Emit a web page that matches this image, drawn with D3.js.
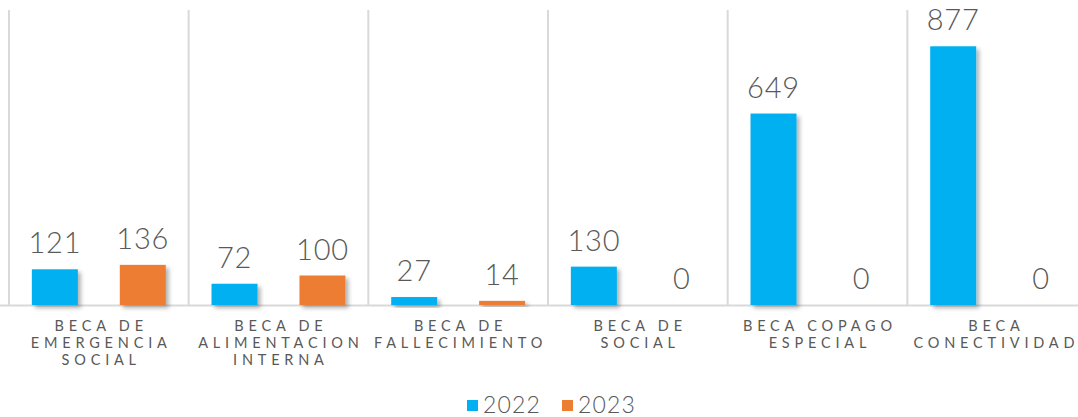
<!DOCTYPE html>
<html>
<head>
<meta charset="utf-8">
<script src="https://cdn.jsdelivr.net/npm/d3@7"></script>
<style>
  html, body { margin: 0; padding: 0; background: #fff; }
  svg { display: block; }
  text { font-family: "Lato", "Noto Sans", sans-serif; fill: #595959; }
</style>
</head>
<body>
<svg id="chart" width="1078" height="417"></svg>
<script>
// Becas otorgadas por tipo, 2022 vs 2023
const categories = [
  ["BECA DE", "EMERGENCIA", "SOCIAL"],
  ["BECA DE", "ALIMENTACION", "INTERNA"],
  ["BECA DE", "FALLECIMIENTO"],
  ["BECA DE", "SOCIAL"],
  ["BECA COPAGO", "ESPECIAL"],
  ["BECA", "CONECTIVIDAD"]
];
const seriesNames = ["2022", "2023"];
const values2022 = [121, 72, 27, 130, 649, 877];
const values2023 = [136, 100, 14, 0, 0, 0];
const colors = ["#00B0F0", "#ED7D31"];

const svg = d3.select("#chart");
const W = 1078;
const plotLeft = 9, plotRight = 1087, plotTop = 10, base = 305;

const x = d3.scaleBand().domain(d3.range(categories.length)).range([plotLeft, plotRight]).paddingInner(0).paddingOuter(0);
const xs = d3.scaleBand().domain(seriesNames).range([0, x.bandwidth()]).paddingInner(0.477).paddingOuter(0.26);
const y = d3.scaleLinear().domain([0, 1000]).range([base, plotTop]);

// drop shadow for bars
const defs = svg.append("defs");
const f = defs.append("filter").attr("id", "shadow").attr("x", "-20%").attr("y", "-20%").attr("width", "150%").attr("height", "150%");
f.append("feDropShadow").attr("dx", 3).attr("dy", 3).attr("stdDeviation", 2)
  .attr("flood-color", "#000").attr("flood-opacity", 0.3);

// vertical separators
const seps = d3.range(categories.length + 1).map(i => plotLeft + i * x.bandwidth());
svg.append("g").selectAll("line").data(seps).join("line")
  .attr("x1", d => d).attr("x2", d => d)
  .attr("y1", plotTop).attr("y2", base)
  .attr("stroke", "#d9d9d9").attr("stroke-width", 2);

// baseline
svg.append("line").attr("x1", 0).attr("x2", W).attr("y1", base + 0.5).attr("y2", base + 0.5)
  .attr("stroke", "#d9d9d9").attr("stroke-width", 2);

const data = seriesNames.map((s, si) => ({
  name: s, color: colors[si],
  values: (si === 0 ? values2022 : values2023).map((v, i) => ({ i, v, s, color: colors[si] }))
}));

const groups = svg.append("g").selectAll("g").data(data).join("g");
groups.selectAll("rect").data(d => d.values.filter(p => p.v > 0)).join("rect")
  .attr("x", p => x(p.i) + xs(p.s))
  .attr("width", xs.bandwidth())
  .attr("y", p => y(p.v))
  .attr("height", p => base - y(p.v))
  .attr("fill", p => p.color)
  .attr("filter", "url(#shadow)");

groups.selectAll("text").data(d => d.values).join("text")
  .attr("x", p => x(p.i) + xs(p.s) + xs.bandwidth() / 2)
  .attr("y", p => y(p.v) - 16)
  .attr("text-anchor", "middle")
  .attr("font-size", 29)
  .attr("font-weight", 300)
  .attr("letter-spacing", 0.8)
  .text(p => p.v);

// category labels
const ls = 4.8;
const cat = svg.append("g").selectAll("text").data(categories).join("text")
  .attr("text-anchor", "middle")
  .attr("font-size", 14.5)
  .attr("letter-spacing", ls);
cat.each(function (lines, i) {
  const cx = Math.min(x(i) + x.bandwidth() / 2, 994);
  d3.select(this).selectAll("tspan").data(lines).join("tspan")
    .attr("x", cx + ls / 2)
    .attr("y", (d, k) => 331 + k * 17)
    .text(d => d);
});

// legend
const leg = svg.append("g");
const legX = [467, 562];
data.forEach((d, k) => {
  leg.append("rect").attr("x", legX[k]).attr("y", 400).attr("width", 11).attr("height", 11).attr("fill", d.color);
  leg.append("text").attr("x", legX[k] + 16).attr("y", 413).attr("font-size", 23).attr("font-weight", 300)
    .attr("letter-spacing", 1.2).text(d.name);
});
</script>
</body>
</html>
